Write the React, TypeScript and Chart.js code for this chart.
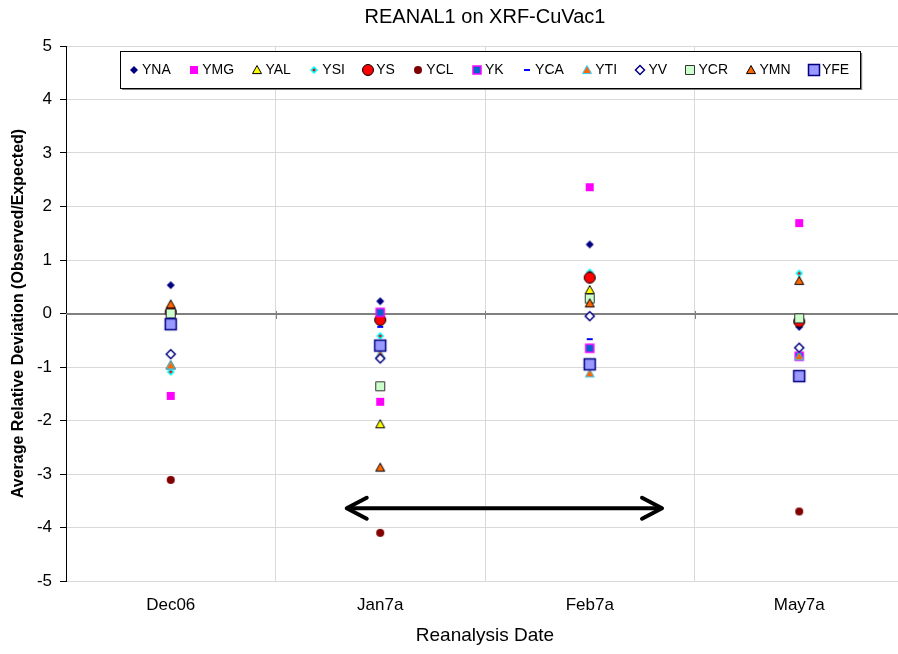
import React, { useEffect, useRef } from 'react';
import { Chart, registerables } from 'chart.js';

Chart.register(...registerables);

// ---------- data ----------
const TITLE = 'REANAL1 on XRF-CuVac1';
const X_TITLE = 'Reanalysis Date';
const Y_TITLE = 'Average Relative Deviation (Observed/Expected)';
const CATEGORIES = ['Dec06', 'Jan7a', 'Feb7a', 'May7a'];
const Y_MIN = -5;
const Y_MAX = 5;
const Y_STEP = 1;

const YNA = [0.53, 0.23, 1.29, -0.25];
const YMG = [-1.54, -1.65, 2.36, 1.69];
const YAL = [-0.97, -2.07, 0.44, -0.12];
const YSI = [-1.09, -0.42, 0.77, 0.75];
const YS = [0.03, -0.12, 0.67, -0.15];
const YCL = [-3.11, -4.1, null, -3.7];
const YK = [-0.06, 0.02, -0.65, -0.8];
const YCA = [0.02, -0.25, -0.48, -0.8];
const YTI = [-0.97, -0.76, -1.12, -0.8];
const YV = [-0.76, -0.84, -0.05, -0.64];
const YCR = [0.0, -1.36, 0.28, -0.09];
const YMN = [0.17, -2.88, 0.19, 0.61];
const YFE = [-0.2, -0.6, -0.95, -1.17];

// double-headed arrow annotation (category index units, y value)
const ARROW_FROM = 0.84;
const ARROW_TO = 2.345;
const ARROW_Y = -3.64;

// ---------- styles ----------
type Shape = 'diamond' | 'square' | 'triangle' | 'circle' | 'dash' | 'sidiamond';
interface Style { shape: Shape; fill: string; stroke?: string; half: number; lw?: number }

const SERIES: { name: string; data: (number | null)[]; style: Style }[] = [
  { name: 'YNA', data: YNA, style: { shape: 'diamond', fill: '#000080', half: 4 } },
  { name: 'YMG', data: YMG, style: { shape: 'square', fill: '#FF00FF', half: 4 } },
  { name: 'YAL', data: YAL, style: { shape: 'triangle', fill: '#FFFF00', stroke: '#000000', half: 4.5, lw: 1 } },
  { name: 'YSI', data: YSI, style: { shape: 'sidiamond', fill: '#00FFFF', half: 4 } },
  { name: 'YS', data: YS, style: { shape: 'circle', fill: '#FF0000', stroke: '#000000', half: 5.5, lw: 1 } },
  { name: 'YCL', data: YCL, style: { shape: 'circle', fill: '#800000', half: 4 } },
  { name: 'YK', data: YK, style: { shape: 'square', fill: '#0066CC', stroke: '#FF00FF', half: 4, lw: 1.5 } },
  { name: 'YCA', data: YCA, style: { shape: 'dash', fill: '#0000FF', half: 3 } },
  { name: 'YTI', data: YTI, style: { shape: 'triangle', fill: '#FF6600', stroke: '#33CCFF', half: 4.5, lw: 1 } },
  { name: 'YV', data: YV, style: { shape: 'diamond', fill: '#FFFFFF', stroke: '#000080', half: 4.5, lw: 1.5 } },
  { name: 'YCR', data: YCR, style: { shape: 'square', fill: '#CCFFCC', stroke: '#333333', half: 4.5, lw: 1 } },
  { name: 'YMN', data: YMN, style: { shape: 'triangle', fill: '#FF6600', stroke: '#000000', half: 4.5, lw: 1 } },
  { name: 'YFE', data: YFE, style: { shape: 'square', fill: '#9999FF', stroke: '#000080', half: 5.5, lw: 1.5 } },
];

const FONT = 'Arial, "Liberation Sans", sans-serif';

function makeMarker(st: Style): HTMLCanvasElement {
  const s = 16;
  const c = document.createElement('canvas');
  c.width = s;
  c.height = s;
  const g = c.getContext('2d')!;
  const m = s / 2;
  const h = st.half;
  g.beginPath();
  switch (st.shape) {
    case 'diamond':
    case 'sidiamond':
      g.moveTo(m, m - h);
      g.lineTo(m + h, m);
      g.lineTo(m, m + h);
      g.lineTo(m - h, m);
      g.closePath();
      break;
    case 'square':
      g.rect(m - h, m - h, 2 * h, 2 * h);
      break;
    case 'triangle':
      g.moveTo(m, m - h);
      g.lineTo(m + h, m + h * 0.8);
      g.lineTo(m - h, m + h * 0.8);
      g.closePath();
      break;
    case 'circle':
      g.arc(m, m, h, 0, Math.PI * 2);
      break;
    case 'dash':
      g.rect(m - h, m - 1, 2 * h, 2);
      break;
  }
  g.fillStyle = st.fill;
  g.fill();
  if (st.stroke) {
    g.strokeStyle = st.stroke;
    g.lineWidth = st.lw || 1;
    g.stroke();
  }
  if (st.shape === 'sidiamond') {
    g.beginPath();
    g.moveTo(m, m - 1.8);
    g.lineTo(m + 1.8, m);
    g.lineTo(m, m + 1.8);
    g.lineTo(m - 1.8, m);
    g.closePath();
    g.fillStyle = '#FF0000';
    g.fill();
  }
  return c;
}

export default function App() {
  const ref = useRef<HTMLCanvasElement | null>(null);

  useEffect(() => {
    if (!ref.current) return;
    const markers = SERIES.map((s) => makeMarker(s.style));

    const overlay = {
      id: 'overlay',
      beforeDatasetsDraw(chart: any) {
        const { ctx, chartArea: a, scales } = chart;
        const x = scales.x;
        const y = scales.y;
        const y0 = Math.round(y.getPixelForValue(0));
        ctx.save();
        ctx.strokeStyle = '#808080';
        ctx.lineWidth = 2;
        ctx.beginPath();
        ctx.moveTo(a.left, y0);
        ctx.lineTo(a.right, y0);
        ctx.stroke();
        ctx.lineWidth = 1;
        for (let i = 0; i < CATEGORIES.length - 1; i++) {
          const px = Math.round(x.getPixelForValue(i + 0.5)) + 0.5;
          ctx.beginPath();
          ctx.moveTo(px, y0 - 3);
          ctx.lineTo(px, y0 + 5);
          ctx.stroke();
        }
        ctx.restore();
      },
      afterDatasetsDraw(chart: any) {
        const { ctx, scales } = chart;
        const x1 = scales.x.getPixelForValue(ARROW_FROM);
        const x2 = scales.x.getPixelForValue(ARROW_TO);
        const ay = scales.y.getPixelForValue(ARROW_Y);
        ctx.save();
        ctx.strokeStyle = '#000';
        ctx.lineWidth = 4;
        ctx.lineCap = 'round';
        ctx.lineJoin = 'round';
        ctx.beginPath();
        ctx.moveTo(x1 + 2, ay);
        ctx.lineTo(x2 - 2, ay);
        ctx.stroke();
        ctx.beginPath();
        ctx.moveTo(x1 + 20, ay - 10.5);
        ctx.lineTo(x1, ay);
        ctx.lineTo(x1 + 20, ay + 10.5);
        ctx.stroke();
        ctx.beginPath();
        ctx.moveTo(x2 - 20, ay - 10.5);
        ctx.lineTo(x2, ay);
        ctx.lineTo(x2 - 20, ay + 10.5);
        ctx.stroke();
        ctx.restore();
      },
      afterDraw(chart: any) {
        const { ctx, chartArea: a } = chart;
        ctx.save();
        // title
        ctx.fillStyle = '#000';
        ctx.font = `20px ${FONT}`;
        ctx.textAlign = 'center';
        ctx.textBaseline = 'middle';
        ctx.fillText(TITLE, (a.left + a.right) / 2, 17);

        // legend
        ctx.font = `14px ${FONT}`;
        const boxL = a.left + 54;
        const boxT = a.top + 5;
        const boxH = 37;
        const textOff = 8;
        const gap = 23.4;
        let mx = boxL + 14;
        const items: { mx: number; tx: number; w: number }[] = [];
        SERIES.forEach((s) => {
          const w = ctx.measureText(s.name).width;
          items.push({ mx, tx: mx + textOff, w });
          mx = mx + textOff + w + gap;
        });
        const last = items[items.length - 1];
        const boxR = last.tx + last.w + 11;
        // shadow
        ctx.fillStyle = '#808080';
        ctx.fillRect(boxL + 2, boxT + 2, boxR - boxL, boxH);
        ctx.fillStyle = '#fff';
        ctx.fillRect(boxL, boxT, boxR - boxL, boxH);
        ctx.strokeStyle = '#000';
        ctx.lineWidth = 1;
        ctx.strokeRect(Math.round(boxL) + 0.5, Math.round(boxT) + 0.5, Math.round(boxR - boxL), boxH);
        const cy = boxT + boxH / 2;
        ctx.textAlign = 'left';
        ctx.fillStyle = '#000';
        items.forEach((it, i) => {
          const img = markers[i];
          ctx.drawImage(img, Math.round(it.mx - img.width / 2), Math.round(cy - img.height / 2));
          ctx.fillText(SERIES[i].name, it.tx, cy + 1);
        });
        ctx.restore();
      },
    };

    const chart = new Chart(ref.current, {
      type: 'line',
      data: {
        labels: CATEGORIES,
        datasets: SERIES.map((s, i) => ({
          label: s.name,
          data: s.data,
          showLine: false,
          pointStyle: markers[i] as any,
          pointRadius: 5,
          pointHoverRadius: 5,
          order: SERIES.length - i,
        })),
      },
      options: {
        responsive: false,
        animation: false,
        events: [],
        layout: { padding: { top: 46, right: 4, left: 0, bottom: 0 } },
        plugins: {
          legend: { display: false },
          tooltip: { enabled: false },
          title: { display: false },
        },
        scales: {
          x: {
            type: 'category',
            offset: true,
            grid: {
              offset: true,
              color: (c: any) => (c.index === 0 ? 'rgba(0,0,0,0)' : '#d9d9d9'),
              lineWidth: 1,
              drawTicks: false,
              tickLength: 0,
            },
            border: { display: true, color: '#d9d9d9' },
            ticks: { font: { size: 17, family: FONT }, color: '#000', padding: 14, maxRotation: 0 },
            title: {
              display: true,
              text: X_TITLE,
              font: { size: 19, family: FONT },
              color: '#000',
              padding: { top: 0, bottom: 7 },
            },
            afterFit: (s: any) => {
              s.height = 73;
            },
          },
          y: {
            min: Y_MIN,
            max: Y_MAX,
            ticks: { stepSize: Y_STEP, font: { size: 17, family: FONT }, color: '#000', padding: 8 },
            grid: {
              color: (c: any) => (c.tick && c.tick.value === 0 ? '#808080' : '#d9d9d9'),
              tickColor: '#000',
              tickLength: 6,
            },
            border: { display: true, color: '#000', width: 1 },
            title: {
              display: true,
              text: Y_TITLE,
              font: { size: 16, weight: 'bold', family: FONT },
              color: '#000',
              padding: { top: 9, bottom: 0 },
            },
            afterFit: (s: any) => {
              s.width = 66;
            },
          },
        },
      },
      plugins: [overlay],
    } as any);

    return () => chart.destroy();
  }, []);

  return (
    <div style={{ position: 'fixed', left: 0, top: 0, width: 898, height: 654, overflow: 'hidden', background: '#fff' }}>
      <canvas ref={ref} width={910} height={654} style={{ display: 'block', width: 910, height: 654 }} />
    </div>
  );
}
